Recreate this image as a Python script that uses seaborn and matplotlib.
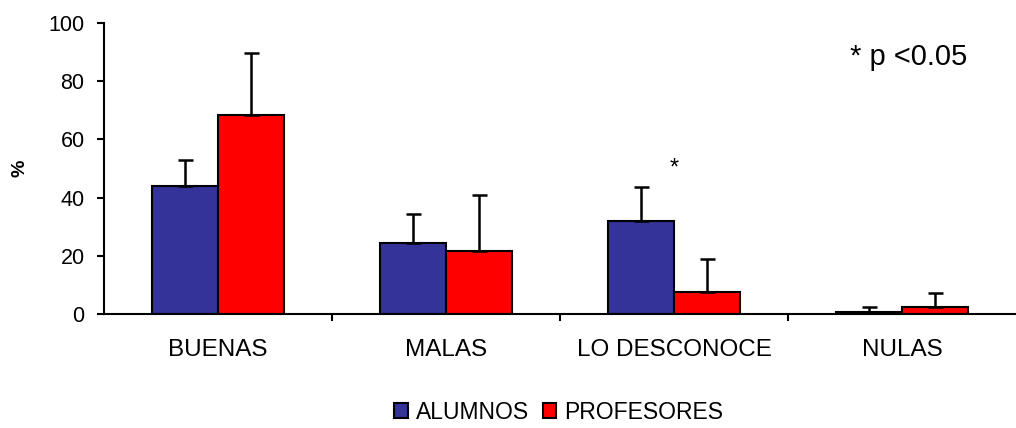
import pandas as pd
import numpy as np
import matplotlib
matplotlib.use("Agg")
import matplotlib.pyplot as plt
import seaborn as sns

# datos
categorias = ["BUENAS", "MALAS", "LO DESCONOCE", "NULAS"]
alumnos = [44.0, 24.4, 32.0, 0.8]
profesores = [68.4, 21.6, 7.6, 2.3]
alumnos_sd = [9.0, 10.0, 11.6, 1.6]
profesores_sd = [21.3, 19.3, 11.3, 5.0]
grupos = ["ALUMNOS", "PROFESORES"]
colores = ["#333399", "#FF0000"]

df = pd.DataFrame({
    "categoria": categorias * 2,
    "grupo": [grupos[0]] * 4 + [grupos[1]] * 4,
    "valor": alumnos + profesores,
})

sns.set_style("ticks", {"axes.edgecolor": "black", "text.color": "black",
                        "axes.labelcolor": "black", "xtick.color": "black",
                        "ytick.color": "black"})
plt.rcParams["font.family"] = ["Liberation Sans", "DejaVu Sans"]

fig = plt.figure(figsize=(10.16, 4.28), dpi=100)
ax = fig.add_axes([0.1024, 0.2664, 0.8976, 0.6799])

sns.barplot(data=df, x="categoria", y="valor", hue="grupo", order=categorias,
            hue_order=grupos, palette=colores, saturation=1, width=0.576, gap=0,
            edgecolor="black", linewidth=1.5, errorbar=None, ax=ax)

# barras de error solo hacia arriba
for cont, sd in zip(ax.containers, [alumnos_sd, profesores_sd]):
    xs = [p.get_x() + p.get_width() / 2 for p in cont.patches]
    hs = [p.get_height() for p in cont.patches]
    ax.errorbar(xs, hs, yerr=[np.zeros(len(sd)), sd], fmt="none",
                ecolor="black", elinewidth=1.8, capsize=5.4, capthick=1.8,
                zorder=1)

ax.set_ylim(0, 100)
ax.set_xlim(-0.5, 3.5)
ax.set_yticks([0, 20, 40, 60, 80, 100])
ax.set_xticks([0.5, 1.5, 2.5], minor=True)
ax.tick_params(axis="x", which="major", length=0, pad=18, labelsize=17.5)
ax.tick_params(axis="x", which="minor", length=5, width=1.5)
ax.tick_params(axis="y", length=5, width=1.5, labelsize=15.5, pad=9)
for s in ["top", "right"]:
    ax.spines[s].set_visible(False)
for s in ["left", "bottom"]:
    ax.spines[s].set_linewidth(1.5)
ax.set_xlabel("")
ax.set_ylabel("%", fontsize=14, fontweight="bold")
ax.yaxis.set_label_coords(-0.083, 0.5)

ax.text(2, 50, "*", ha="center", va="center", fontsize=17)
ax.text(3.03, 88.3, "* p <0.05", ha="center", va="center", fontsize=21)

ax.legend(loc="center", bbox_to_anchor=(0.55, 0.037), bbox_transform=fig.transFigure,
          ncol=2, frameon=False, fontsize=16.5, handlelength=0.6, handleheight=0.6,
          handletextpad=0.35, columnspacing=0.6)
for h in ax.get_legend().legend_handles:
    h.set_edgecolor("black")
    h.set_linewidth(1.5)

fig.savefig("out.png", dpi=100)
